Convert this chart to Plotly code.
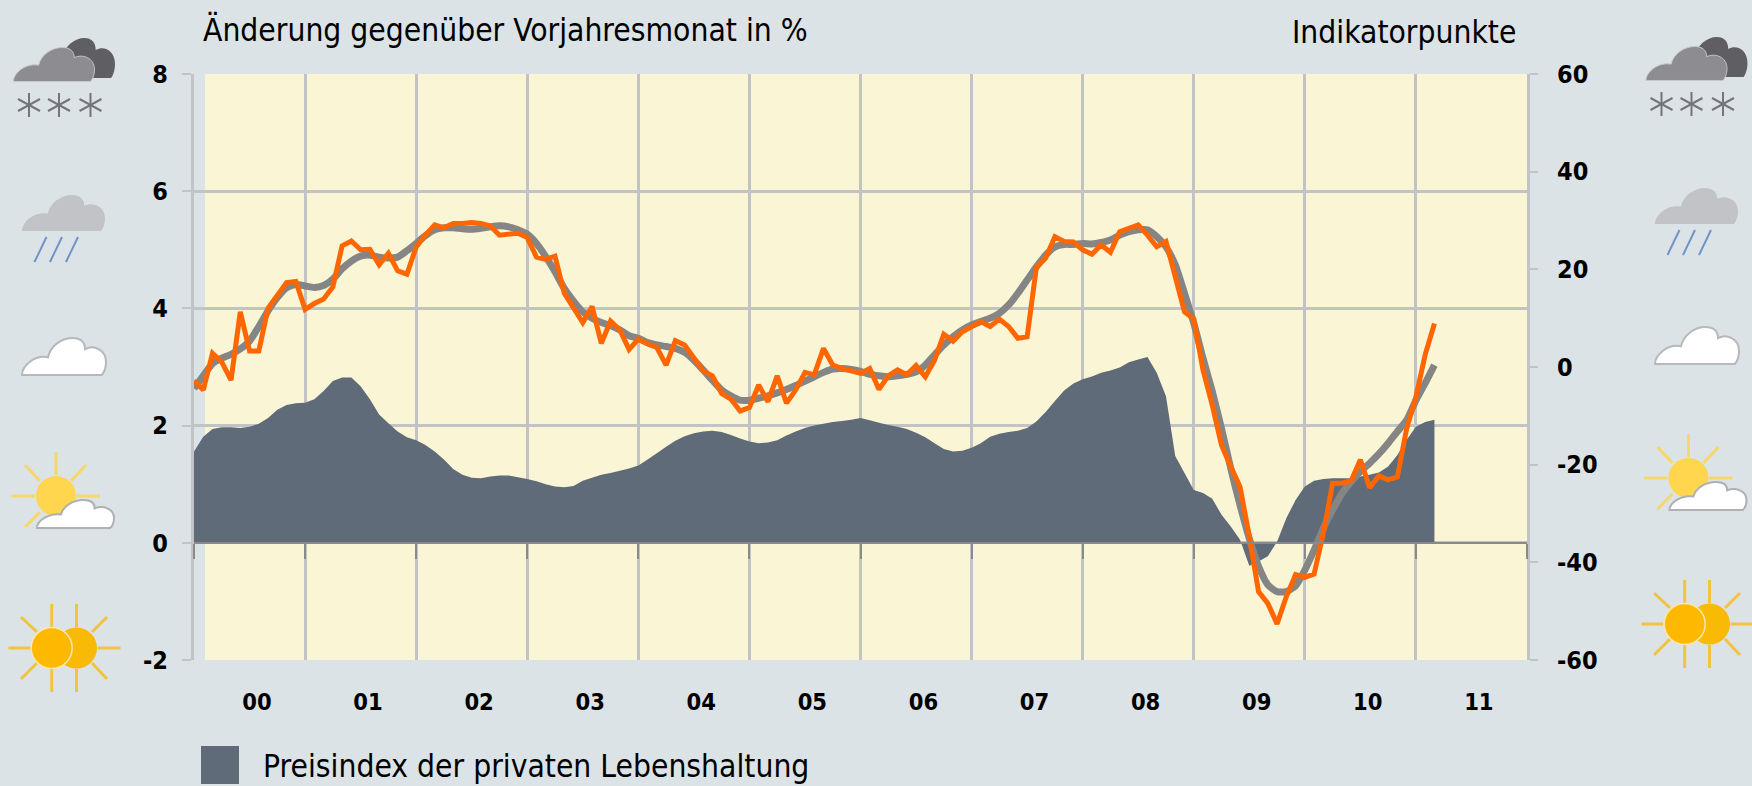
import plotly.graph_objects as go

# ---- data -------------------------------------------------------------
year_labels = ["00","01","02","03","04","05","06","07","08","09","10","11"]
left_ticks = [-2, 0, 2, 4, 6, 8]
left_labels = ["-2", "0", "2", "4", "6", "8"]
right_ticks = [-60, -40, -20, 0, 20, 40, 60]
right_labels = ["-60", "-40", "-20", "0", "20", "40", "60"]
title_left = "Änderung gegenüber Vorjahresmonat in %"
title_right = "Indikatorpunkte"
legend_label = "Preisindex der privaten Lebenshaltung"

preisindex = [
 1.56,1.81,1.94,1.97,1.97,1.96,1.98,2.03,2.13,2.27,2.35,2.38,
 2.39,2.45,2.59,2.76,2.82,2.82,2.67,2.45,2.19,2.04,1.90,1.80,
 1.75,1.67,1.56,1.42,1.26,1.16,1.11,1.10,1.13,1.15,1.15,1.12,
 1.09,1.05,1.00,0.96,0.95,0.97,1.06,1.11,1.16,1.19,1.23,1.27,
 1.32,1.42,1.53,1.64,1.74,1.82,1.87,1.90,1.91,1.89,1.84,1.78,
 1.73,1.70,1.71,1.75,1.83,1.90,1.96,2.00,2.03,2.06,2.08,2.10,
 2.13,2.09,2.05,2.01,1.98,1.94,1.88,1.80,1.70,1.60,1.56,1.57,
 1.62,1.70,1.81,1.86,1.89,1.91,1.96,2.07,2.23,2.42,2.60,2.72,
 2.79,2.84,2.90,2.94,2.99,3.08,3.13,3.17,2.90,2.50,1.48,1.19,
 0.90,0.85,0.75,0.48,0.28,0.05,-0.39,-0.32,-0.23,0.02,0.42,0.73,
 0.96,1.06,1.09,1.10,1.10,1.10,1.13,1.16,1.20,1.30,1.50,1.76,1.98,2.06,2.10]

indikator_grau = [
 -4.4,-1.8,0.7,1.8,2.6,3.7,5.3,8.3,11.5,14.2,16.2,16.9,
 16.6,16.3,16.7,18.0,20.1,21.7,22.7,22.9,22.5,22.3,22.5,23.8,
 25.3,26.9,28.1,28.5,28.5,28.3,28.2,28.4,28.7,28.9,28.7,28.1,
 27.2,25.3,22.6,19.5,16.1,13.5,11.3,10.0,9.1,8.5,7.6,6.4,
 5.9,5.0,4.5,4.2,3.8,3.0,1.4,-0.6,-2.7,-4.7,-5.9,-6.8,
 -6.8,-6.4,-5.9,-5.3,-4.6,-3.8,-2.9,-2.0,-1.1,-0.4,-0.3,-0.5,
 -0.9,-1.5,-1.8,-2.0,-1.8,-1.5,-1.0,0.4,2.5,4.5,6.2,7.6,
 8.6,9.3,10.0,11.0,12.7,15.1,17.8,20.5,22.9,24.6,25.1,25.1,
 25.3,25.2,25.5,26.0,27.0,27.7,28.1,28.1,26.7,24.6,20.9,15.1,
 9.0,1.8,-5.0,-12.6,-20.8,-28.3,-35.1,-40.8,-44.6,-46.0,-46.0,-44.8,
 -41.6,-37.5,-33.0,-29.3,-25.9,-23.5,-21.4,-19.7,-17.8,-15.6,-13.2,-10.9,-6.8,-3.3,0.4]

indikator_orange = [
 -2.8,-4.7,2.8,1.0,-2.7,11.3,3.3,3.3,12.0,14.7,17.3,17.5,
 11.8,13.0,13.9,16.4,24.8,25.8,24.0,24.1,20.9,23.3,19.7,19.0,
 24.6,27.0,29.1,28.5,29.4,29.4,29.6,29.4,28.9,27.0,27.3,27.4,
 26.5,22.5,22.05,22.7,15.1,12.0,9.1,12.4,4.85,9.4,7.6,3.6,
 5.7,4.7,4.0,0.4,5.4,4.5,1.8,-0.8,-1.8,-5.4,-6.6,-9.0,
 -8.3,-3.7,-7.1,-1.8,-7.4,-4.7,-1.1,-1.6,3.8,0.4,-0.3,-0.9,
 -1.3,-0.3,-4.6,-1.8,-0.6,-1.6,0.3,-2.0,1.4,6.7,5.3,7.2,
 8.4,9.3,8.3,9.8,8.3,5.9,6.2,20.4,22.3,26.7,25.7,25.6,
 24.0,23.1,25.0,23.5,27.7,28.5,29.1,27.0,24.6,25.7,18.2,11.3,
 9.8,-0.6,-7.8,-16.0,-20.4,-24.5,-34.7,-46.0,-48.4,-52.6,-47.0,-42.5,
 -43.1,-42.4,-34.0,-23.8,-23.8,-23.3,-19.0,-24.7,-22.3,-23.1,-22.5,-12.6,-6.1,2.5,8.9]

months = list(range(len(preisindex)))

# ---- page geometry ----------------------------------------------------
W, H = 1752, 786
L, R, T, B = 194, 1527, 74, 660
BG = "#dce3e7"; YELLOW = "#faf5d4"; GRID = "#c2c3c4"; AREA = "#5f6b78"
FONT = "DejaVu Sans Condensed, DejaVu Sans"
def px(x): return (x - L) / (R - L)
def py(y): return (B - y) / (B - T)

shapes = [dict(type="rect", xref="x", yref="y", x0=1.19, x1=144, y0=-2, y1=8,
               fillcolor=YELLOW, line_width=0, layer="below")]

def seg(x0, y0, x1, y1, color, width):
    shapes.append(dict(type="line", xref="paper", yref="paper", x0=px(x0), x1=px(x1),
                       y0=py(y0), y1=py(y1), line=dict(color=color, width=width)))

def circle(cx, cy, r, fill, line=None, lw=0):
    shapes.append(dict(type="circle", xref="paper", yref="paper", x0=px(cx-r), x1=px(cx+r),
                       y0=py(cy+r), y1=py(cy-r), fillcolor=fill,
                       line=dict(color=line or fill, width=lw)))

CLOUD = [("M",0,1),("C",0.0,0.75,0.15,0.45,0.31,0.52),("C",0.34,0.2,0.48,0,0.60,0),
         ("C",0.70,0,0.75,0.12,0.75,0.30),("C",0.85,0.18,1.0,0.3,1.0,0.65),
         ("C",1.0,0.82,0.97,0.95,0.95,1),("Z",)]

def cloud(x0, y0, x1, y1, fill, line=None, lw=0):
    parts = []
    for c in CLOUD:
        pts = c[1:]
        coords = [f"{px(x0 + pts[i]*(x1-x0)):.5f},{py(y0 + pts[i+1]*(y1-y0)):.5f}"
                  for i in range(0, len(pts), 2)]
        parts.append(c[0] + " ".join(coords))
    shapes.append(dict(type="path", xref="paper", yref="paper", path=" ".join(parts),
                       fillcolor=fill, line=dict(color=line or fill, width=lw)))

def snow(dx, dy):
    cloud(38+dx, 38+dy, 115+dx, 78+dy, "#5f5e63")
    cloud(13.5+dx, 47.5+dy, 94.5+dx, 81.5+dy, "#8d8c90", "#c5c7ca", 1)
    for sx in (29, 59, 90.5):
        c = "#74757b"
        seg(sx+dx, 93+dy, sx+dx, 117+dy, c, 2)
        seg(sx-11+dx, 99+dy, sx+11+dx, 111+dy, c, 2)
        seg(sx-11+dx, 111+dy, sx+11+dx, 99+dy, c, 2)

def rain(dx, dy):
    cloud(22+dx, 195+dy, 105+dx, 231+dy, "#c1c3c7")
    for x0 in (34.5, 50, 66):
        seg(x0+dx, 262+dy, x0+12+dx, 237+dy, "#7393c8", 2)

def white(dx, dy):
    cloud(22+dx, 338+dy, 106+dx, 375+dy, "#ffffff", "#b6b8bb", 2)

def sun_cloud(dx, dy):
    c = "#f5d76a"
    cx, cy = 56+dx, 496+dy
    seg(cx, 452+dy, cx, 475+dy, c, 3)
    seg(11.5+dx, cy, 35+dx, cy, c, 3)
    seg(76.5+dx, cy, 100+dx, cy, c, 3)
    seg(25+dx, 465+dy, 40+dx, 481+dy, c, 3)
    seg(86+dx, 465+dy, 71+dx, 481+dy, c, 3)
    seg(25+dx, 527+dy, 40+dx, 512+dy, c, 3)
    circle(cx, cy, 20, "#ffd64d")
    cloud(37+dx, 500+dy, 114+dx, 528+dy, "#ffffff", "#aeb0b3", 2)

def double_sun(dx, dy):
    c = "#f2c340"
    for vx in (51.7, 76.5):
        seg(vx+dx, 604+dy, vx+dx, 627+dy, c, 3)
        seg(vx+dx, 669+dy, vx+dx, 692+dy, c, 3)
    seg(8.4+dx, 648+dy, 30.6+dx, 648+dy, c, 3)
    seg(97.6+dx, 648+dy, 120.5+dx, 648+dy, c, 3)
    seg(21+dx, 617+dy, 37+dx, 632+dy, c, 3)
    seg(107+dx, 617+dy, 92+dx, 632+dy, c, 3)
    seg(37+dx, 663+dy, 21+dx, 679+dy, c, 3)
    seg(92+dx, 663+dy, 107+dx, 679+dy, c, 3)
    circle(76.5+dx, 648+dy, 20.5, "#f8ba05")
    circle(51.7+dx, 648+dy, 20.5, "#fdb900", "#fbe9b0", 1.5)

snow(0, 0);        snow(1632.5, -1)
rain(0, 0);        rain(1633, -7)
white(0, 0);       white(1633, -11)
sun_cloud(0, 0);   sun_cloud(1632.5, -18)
double_sun(0, 0);  double_sun(1633, -24)

# legend swatch
shapes.append(dict(type="rect", xref="paper", yref="paper", x0=px(201), x1=px(239),
                   y0=py(784), y1=py(746), fillcolor=AREA, line_width=0))

fig = go.Figure()
fig.add_trace(go.Scatter(x=months, y=preisindex, mode="none", fill="tozeroy", fillcolor=AREA,
                         xaxis="x", yaxis="y", hoverinfo="skip"))
fig.add_trace(go.Scatter(x=[None], y=[None], xaxis="x2", yaxis="y", showlegend=False))
fig.add_trace(go.Scatter(x=months, y=indikator_grau, mode="lines", xaxis="x", yaxis="y2",
                         line=dict(color="#858585", width=7, shape="spline", smoothing=0.6)))
fig.add_trace(go.Scatter(x=months, y=indikator_orange, mode="lines", xaxis="x", yaxis="y2",
                         line=dict(color="#ff6600", width=5)))

TXT = 31.5
annos = [
    dict(text=title_left, x=px(201), y=py(30), xref="paper", yref="paper", xanchor="left",
         yanchor="middle", showarrow=False, font=dict(size=TXT, color="#000", family=FONT)),
    dict(text=title_right, x=px(1518), y=py(32), xref="paper", yref="paper", xanchor="right",
         yanchor="middle", showarrow=False, font=dict(size=TXT, color="#000", family=FONT)),
    dict(text=legend_label, x=px(261), y=py(766), xref="paper", yref="paper", xanchor="left",
         yanchor="middle", showarrow=False, font=dict(size=TXT, color="#000", family=FONT)),
]

tick_font = dict(size=25, color="#000", family=FONT, weight="bold")
fig.update_layout(
    width=W, height=H, paper_bgcolor=BG, plot_bgcolor=BG, showlegend=False,
    margin=dict(l=L, r=W-R, t=T, b=H-B, pad=0),
    shapes=shapes, annotations=annos,
    xaxis=dict(range=[0, 144], tickvals=[6.8+12*i for i in range(12)], ticktext=year_labels,
               showgrid=False, zeroline=False, ticks="",
               tickfont=dict(size=23.5, color="#000", family=FONT, weight="bold"),
               ticklabelstandoff=25),
    xaxis2=dict(range=[0, 144], overlaying="x", anchor="free", position=0.2, side="bottom",
                tickvals=[12*i for i in range(13)], showticklabels=False, ticks="outside",
                ticklen=15, tickcolor="#8a8a8a", tickwidth=2, showline=True, linecolor="#8a8a8a",
                linewidth=2, showgrid=True, gridcolor=GRID, gridwidth=2.5, zeroline=False),
    yaxis=dict(range=[-2, 8], tickvals=left_ticks, ticktext=left_labels, showgrid=True,
               gridcolor=GRID, gridwidth=2.5, zeroline=False, showline=True, linecolor=GRID,
               linewidth=3, ticks="outside", ticklen=9, tickcolor=GRID, tickwidth=2,
               tickfont=tick_font, ticklabelstandoff=9),
    yaxis2=dict(range=[-60, 60], tickvals=right_ticks, ticktext=right_labels, overlaying="y",
                side="right", showgrid=False, zeroline=False, showline=True, linecolor=GRID,
                linewidth=3, ticks="outside", ticklen=8, tickcolor=GRID, tickwidth=2,
                tickfont=tick_font, ticklabelstandoff=14),
)
fig.write_html("out.html", config={"displayModeBar": False},
               post_script="document.body.style.margin='0';document.body.style.background='%s';" % BG)
